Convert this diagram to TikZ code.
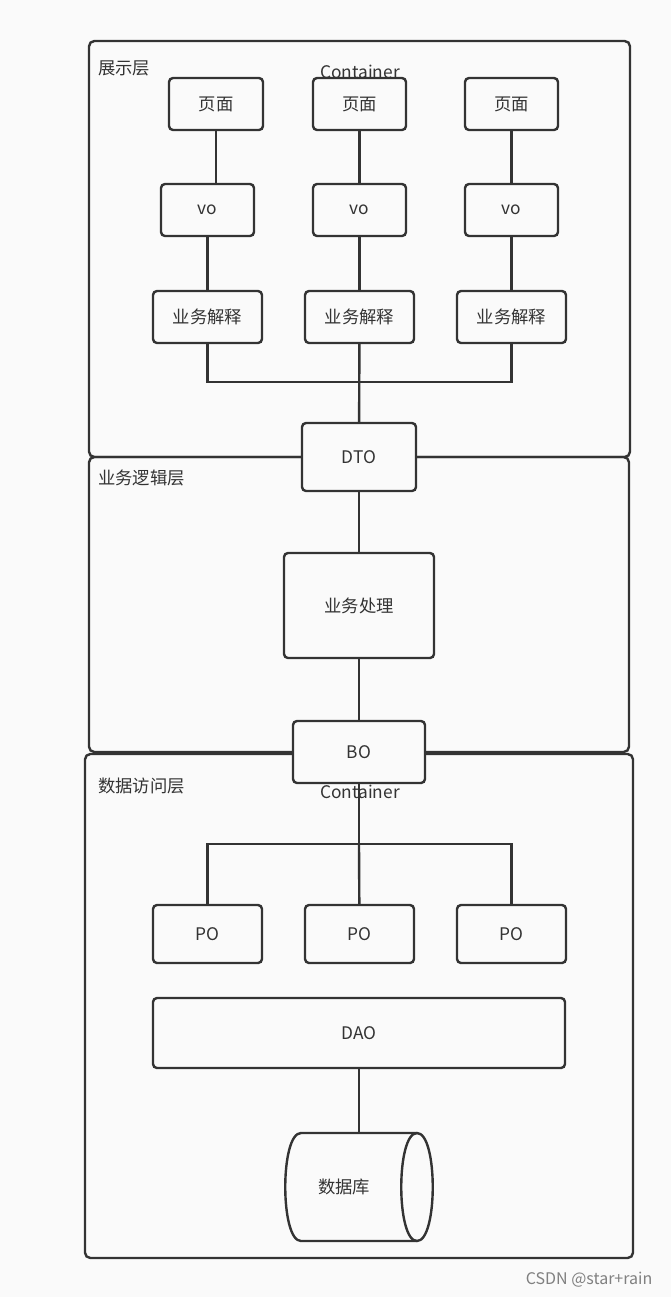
\documentclass[tikz,border=0pt]{standalone}
\usepackage{fontspec}
\setmainfont{Noto Sans CJK SC}
\definecolor{bg}{HTML}{FAFAFA}
\definecolor{ln}{HTML}{333333}
\begin{document}
\begin{tikzpicture}[x=0.75pt,y=-0.75pt,
  sz/.style 2 args={minimum width=#1*0.75pt, minimum height=#2*0.75pt},
  box/.style={draw=ln, line width=1.8pt, rounded corners=3pt, fill=bg, inner sep=0pt,
    font=\fontsize{13}{15}\selectfont, text=ln},
  cont/.style={draw=ln, line width=1.8pt, rounded corners=4pt, inner sep=0pt},
  lbl/.style={anchor=west, font=\fontsize{13}{15}\selectfont, text=ln, inner sep=0pt},
  con/.style={draw=ln, line width=1.8pt}]
\fill[bg] (0,0) rectangle (671,1297);
\useasboundingbox (0,0) rectangle (671,1297);
% containers
\node[cont, sz={541}{416}] (c1) at (359.5,249) {};
\node[cont, sz={540}{295}] (c2) at (359,604.5) {};
\node[cont, sz={548}{504}] (c3) at (359,1006) {};
\node[lbl] (l1) at (98,68) {展示层};
\node[lbl] (l2) at (98,478) {业务逻辑层};
\node[lbl] (l3) at (98,786) {数据访问层};
\node[font=\fontsize{13}{15}\selectfont, text=ln] (ct1) at (360,72) {Container};
\node[font=\fontsize{13}{15}\selectfont, text=ln] (ct2) at (360,792) {Container};
% nodes
\node[box, sz={94}{52}] (p1) at (216,104) {页面};
\node[box, sz={93}{52}] (p2) at (359.5,104) {页面};
\node[box, sz={93}{52}] (p3) at (511.5,104) {页面};
\node[box, sz={93}{52}] (v1) at (207.5,210) {vo};
\node[box, sz={93}{52}] (v2) at (359.5,210) {vo};
\node[box, sz={93}{52}] (v3) at (511.5,210) {vo};
\node[box, sz={109}{52}] (b1) at (207.5,317) {业务解释};
\node[box, sz={109}{52}] (b2) at (359.5,317) {业务解释};
\node[box, sz={109}{52}] (b3) at (511.5,317) {业务解释};
\node[box, sz={114}{68}] (dto) at (359,457) {DTO};
\node[box, sz={150}{105}] (proc) at (359,605.5) {业务处理};
\node[box, sz={132}{62}] (bo) at (359,752) {BO};
\node[box, sz={109}{58}] (po1) at (207.5,934) {PO};
\node[box, sz={109}{58}] (po2) at (359.5,934) {PO};
\node[box, sz={109}{58}] (po3) at (511.5,934) {PO};
\node[box, sz={412}{70}] (dao) at (359,1033) {DAO};
% database cylinder
\node[inner sep=0pt, sz={148}{108}] (db) at (359,1187) {};
\draw[con, fill=bg] (301,1133) -- (417,1133) .. controls (438,1133) and (438,1241) .. (417,1241)
  -- (301,1241) .. controls (280,1241) and (280,1133) .. (301,1133) -- cycle;
\draw[con] (417,1133) .. controls (396,1133) and (396,1241) .. (417,1241);
\node[font=\fontsize{13}{15}\selectfont, text=ln] (dbt) at (344,1187) {数据库};
\coordinate (bus1) at (359,382);
\coordinate (bus2) at (359,844);
% connectors
\draw[con] (p1.south) -- (p1.south |- v1.north);
\draw[con] (p2) -- (v2); \draw[con] (p3) -- (v3);
\foreach \i in {1,2,3} {\draw[con] (v\i) -- (b\i);}
\draw[con] (b1.south) |- (bus1) -| (b3.south);
\draw[con] (b2) -- (dto);
\draw[con] (dto) -- (proc);
\draw[con] (proc) -- (bo);
\draw[con] (bo) -- (bus2);
\draw[con] (po1.north) |- (bus2) -| (po3.north);
\draw[con] (bus2) -- (po2);
\draw[con] (dao) -- (db);
\node[anchor=east, font=\fontsize{12}{14}\selectfont, text=gray] (wm) at (657,1280) {CSDN @star+rain};
\end{tikzpicture}
\end{document}
